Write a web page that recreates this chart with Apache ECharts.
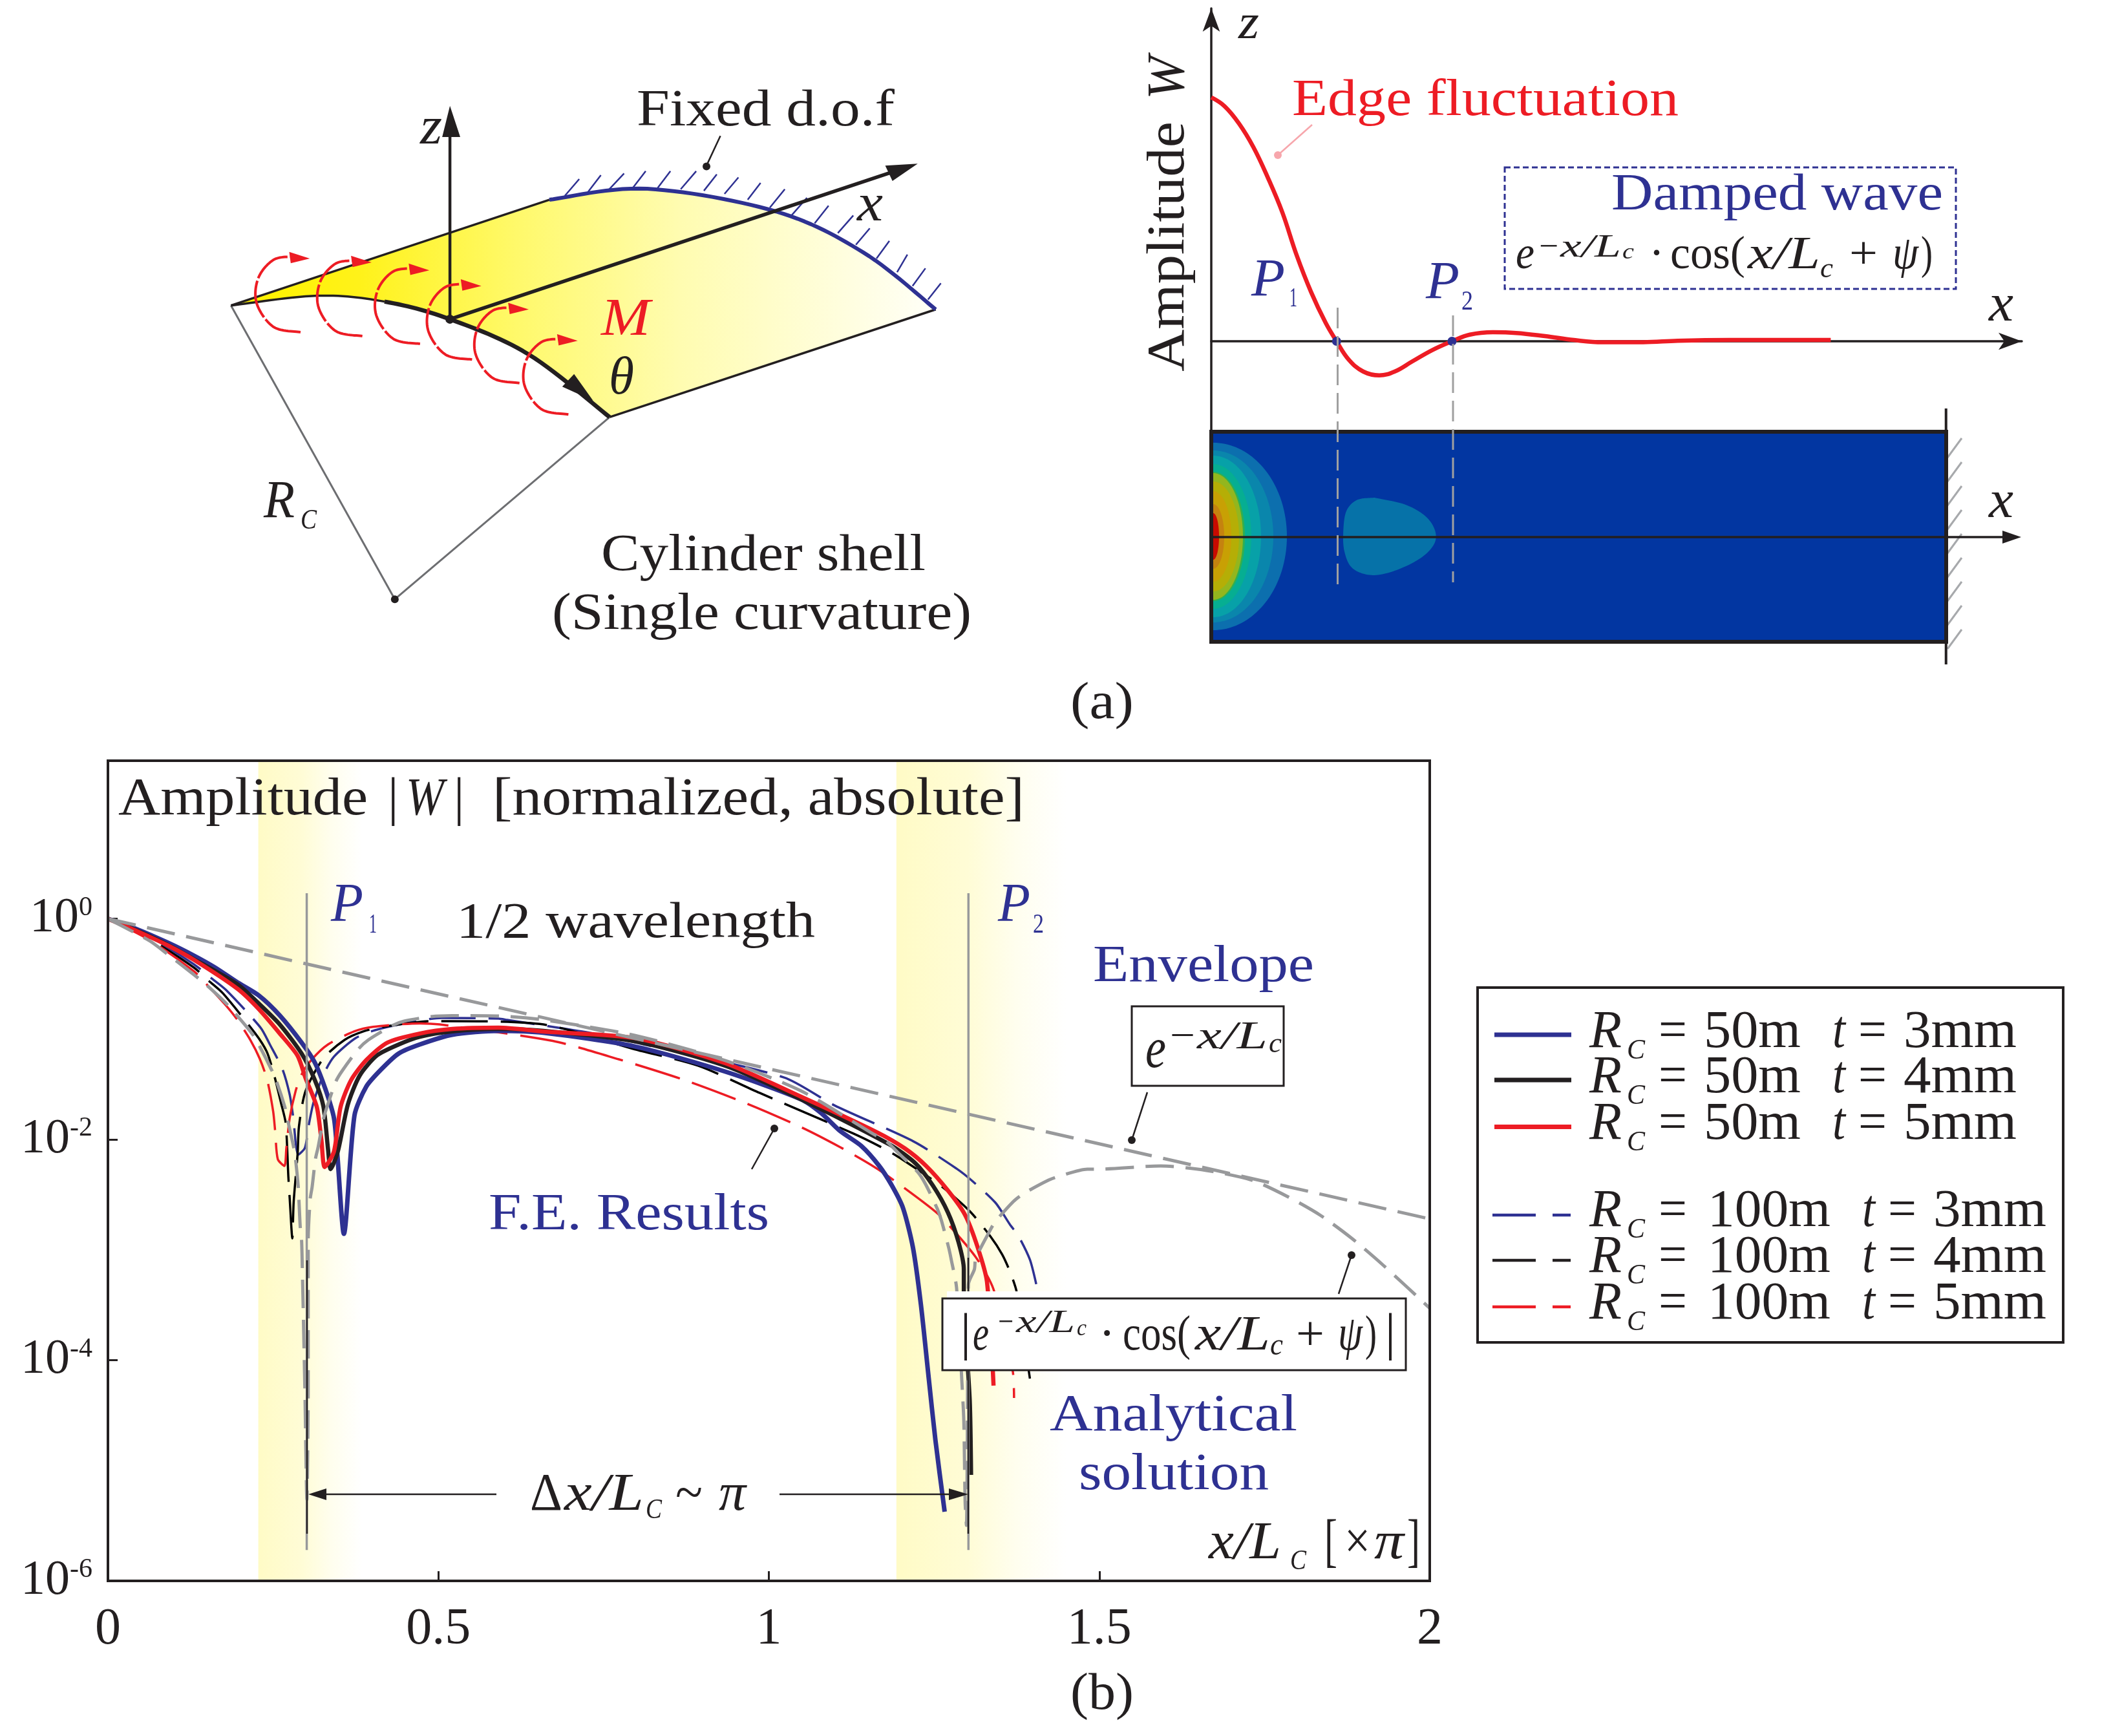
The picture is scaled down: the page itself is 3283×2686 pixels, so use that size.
<!DOCTYPE html>
<html><head><meta charset="utf-8">
<style>html,body{margin:0;padding:0;background:#fff}#c{width:3283px;height:2686px}</style>
<script src="https://cdn.jsdelivr.net/npm/echarts@6/dist/echarts.min.js"></script>
</head><body><div id="c"></div>
<script>
// ---------- chart values: [x/Lc (x pi), log10 |W|] ----------
const rc50t3 = [[0,0],[.042,-.09],[.090,-.215],[.130,-.334],[.162,-.442],[.196,-.577],[.228,-.694],[.260,-.876],[.293,-1.122],[.313,-1.303],[.329,-1.543],[.342,-1.807],[.347,-2.129],[.357,-2.855],[.373,-1.783],[.391,-1.520],[.414,-1.362],[.440,-1.221],[.472,-1.139],[.521,-1.051],[.591,-1.016],[.660,-1.034],[.797,-1.157],[.934,-1.385],[1.049,-1.637],[1.079,-1.760],[1.108,-1.924],[1.140,-2.059],[1.167,-2.240],[1.186,-2.416],[1.203,-2.621],[1.218,-2.978],[1.230,-3.493],[1.242,-4.167],[1.252,-4.723],[1.266,-5.373]];
const rc50t4 = [[0,0],[.045,-.11],[.090,-.235],[.130,-.366],[.196,-.594],[.228,-.767],[.260,-.958],[.293,-1.221],[.313,-1.461],[.326,-1.701],[.333,-2.088],[.337,-2.269],[.348,-2.105],[.363,-1.684],[.381,-1.420],[.407,-1.239],[.440,-1.139],[.472,-1.069],[.521,-1.020],[.591,-.999],[.659,-1.016],[.797,-1.110],[.934,-1.332],[1.049,-1.637],[1.183,-2.047],[1.222,-2.217],[1.248,-2.416],[1.271,-2.662],[1.287,-2.931],[1.295,-3.177],[1.295,-3.388],[1.304,-4.366],[1.306,-5.039]];
const rc50t5 = [[0,0],[.045,-.115],[.090,-.24],[.130,-.372],[.196,-.635],[.228,-.817],[.260,-1.040],[.287,-1.242],[.299,-1.444],[.316,-1.705],[.323,-2.006],[.328,-2.250],[.342,-2.109],[.352,-1.705],[.368,-1.461],[.391,-1.280],[.423,-1.122],[.472,-1.040],[.521,-.999],[.591,-.987],[.659,-1.022],[.797,-1.081],[.934,-1.309],[1.049,-1.613],[1.164,-1.936],[1.206,-2.082],[1.238,-2.240],[1.271,-2.463],[1.297,-2.685],[1.316,-2.978],[1.330,-3.288],[1.340,-4.231]];
const rc100t3 = [[0,0],[.065,-.17],[.130,-.413],[.156,-.536],[.179,-.647],[.231,-.987],[.245,-1.139],[.264,-1.362],[.275,-1.593],[.280,-1.783],[.288,-2.138],[.298,-2.076],[.304,-1.865],[.311,-1.666],[.326,-1.414],[.342,-1.250],[.375,-1.081],[.404,-1.010],[.456,-.940],[.505,-.899],[.591,-.905],[.604,-.917],[.729,-1.034],[.807,-1.133],[1.023,-1.438],[1.099,-1.690],[1.219,-2.018],[1.284,-2.264],[1.307,-2.372],[1.343,-2.574],[1.365,-2.773],[1.377,-2.867],[1.395,-3.089],[1.405,-3.323]];
const rc100t4 = [[0,0],[.065,-.19],[.130,-.442],[.153,-.565],[.174,-.676],[.223,-1.040],[.240,-1.201],[.250,-1.383],[.262,-1.672],[.269,-1.854],[.273,-2.340],[.275,-2.533],[.279,-2.896],[.281,-2.568],[.287,-2.129],[.289,-1.883],[.299,-1.561],[.326,-1.265],[.358,-1.098],[.387,-1.020],[.417,-.979],[.489,-.928],[.518,-.928],[.659,-.958],[.797,-1.183],[.893,-1.332],[.986,-1.578],[1.128,-1.947],[1.174,-2.082],[1.199,-2.170],[1.262,-2.428],[1.304,-2.650],[1.336,-2.884],[1.353,-3.042],[1.365,-3.200],[1.375,-3.382],[1.395,-4.167]];
const rc100t5 = [[0,0],[.065,-.20],[.130,-.475],[.148,-.586],[.176,-.768],[.196,-.917],[.216,-1.104],[.230,-1.272],[.241,-1.461],[.250,-1.746],[.253,-1.924],[.257,-2.179],[.267,-2.240],[.270,-2.076],[.275,-1.807],[.284,-1.561],[.293,-1.411],[.309,-1.272],[.333,-1.139],[.373,-1.020],[.401,-.979],[.472,-.948],[.502,-.958],[.673,-1.107],[.773,-1.274],[.872,-1.461],[.968,-1.678],[1.049,-1.889],[1.108,-2.070],[1.154,-2.228],[1.178,-2.322],[1.240,-2.597],[1.262,-2.709],[1.313,-3.066],[1.340,-3.359],[1.369,-4.097],[1.371,-4.343]];
const analytical = [[0,0],[.063,-.20],[.090,-.32],[.130,-.507],[.148,-.594],[.179,-.768],[.218,-1.040],[.228,-1.139],[.247,-1.362],[.255,-1.473],[.268,-1.713],[.272,-1.824],[.281,-2.070],[.284,-2.187],[.288,-2.433],[.289,-2.550],[.291,-2.796],[.293,-2.914],[.294,-3.136],[.298,-4.266],[.301,-5.262],[.303,-4.266],[.303,-2.914],[.306,-2.542],[.309,-2.428],[.314,-2.176],[.318,-2.070],[.326,-1.816],[.331,-1.713],[.345,-1.473],[.355,-1.373],[.379,-1.180],[.394,-1.098],[.430,-.969],[.448,-.928],[.489,-.887],[.521,-.878],[.591,-.881],[.660,-.917],[.797,-1.057],[.934,-1.285],[1.049,-1.561],[1.154,-1.936],[1.179,-2.024],[1.196,-2.123],[1.225,-2.293],[1.237,-2.404],[1.255,-2.630],[1.261,-2.732],[1.272,-2.978],[1.276,-3.089],[1.284,-3.341],[1.292,-4.187],[1.295,-4.548],[1.297,-5.285],[1.299,-5.497],[1.301,-3.974],[1.302,-3.312],[1.311,-3.177],[1.313,-3.078],[1.333,-2.843],[1.342,-2.750],[1.370,-2.562],[1.385,-2.492],[1.423,-2.369],[1.439,-2.334],[1.482,-2.269],[1.497,-2.269],[1.593,-2.240],[1.662,-2.281],[1.731,-2.369],[1.786,-2.521],[1.834,-2.685],[1.882,-2.896],[1.930,-3.142],[2.000,-3.529]];
const envelope = [[0,0],[.3008,-.41],[1,-1.36],[2,-2.72]];
const p1Line = [[.3008,.231],[.3008,-5.72]];
const p2Line = [[1.302,.231],[1.302,-5.72]];
const bandP1 = [.2275,.385];
const bandP2 = [1.193,1.45];
const xTicks = ['0','0.5','1','1.5','2'];
const edgeWave = [[0,1],[.115,.964],[.24,.893],[.365,.796],[.49,.671],[.615,.529],[.74,.352],[.865,.201],[.99,.076],[1.085,0],[1.19,-.075],[1.315,-.124],[1.455,-.140],[1.59,-.124],[1.74,-.083],[1.915,-.036],[2.085,0],[2.24,.027],[2.44,.037],[2.64,.034],[2.89,.021],[3.14,.005],[3.39,-.004],[3.74,-.004],[4.04,.002],[4.49,.005],[4.89,.005],[5.365,.005]];
const zeroPoints = [[1.085,0],[2.085,0]];
const legendR = ['50m','50m','50m','100m','100m','100m'];
const legendT = ['3mm','4mm','5mm','3mm','4mm','5mm'];

const BLUE='#2E3192', RED='#ED1C24', BLACK='#231F20', GRAY='#939598';
const FONT='"Liberation Serif"';
const toW = a => a.map(p => [p[0], Math.pow(10,p[1])]);

// ---------- drawing helpers ----------
const ctx = document.createElement('canvas').getContext('2d');
const G = [];
function T(text,x,base,size,o){ o=o||{};
  const font=(o.i?'italic ':'')+size+'px '+FONT;
  ctx.font=font; ctx.textBaseline='middle';
  const m=ctx.measureText('H');
  const off=m.actualBoundingBoxDescent;
  const wid=ctx.measureText(text).width;
  const sx=o.w?o.w/wid:1;
  const el={type:'text',z:o.z||120,silent:true,scaleX:sx,
    style:{text,font,fill:o.c||BLACK,textAlign:'left',verticalAlign:'middle'}};
  if(o.rot){el.rotation=Math.PI/2;el.x=x-off;el.y=base;}
  else{el.x=x;el.y=base-off;}
  G.push(el);
}
function L(pts,c,w,o){o=o||{};G.push({type:'polyline',z:o.z||110,silent:true,shape:{points:pts},style:{stroke:c,lineWidth:w,fill:null,lineDash:o.d||null,lineCap:o.cap||'butt',lineJoin:'round'}});}
function P(pts,c,o){o=o||{};G.push({type:'polygon',z:o.z||110,silent:true,shape:{points:pts},style:{fill:c,stroke:o.s||null,lineWidth:o.w||0}});}
function D(x,y,r,c,z){G.push({type:'circle',z:z||112,silent:true,shape:{cx:x,cy:y,r},style:{fill:c}});}
function R(x,y,w,h,o){o=o||{};G.push({type:'rect',z:o.z||100,silent:true,shape:{x,y,width:w,height:h},style:{fill:o.f||null,stroke:o.s||null,lineWidth:o.w||0,lineDash:o.d||null}});}
function spline(p,n){n=n||14;const r=[];for(let i=0;i<p.length-1;i++){const a=p[Math.max(i-1,0)],b=p[i],c=p[i+1],d=p[Math.min(i+2,p.length-1)];
  for(let k=0;k<n;k++){const t=k/n,t2=t*t,t3=t2*t;const f=j=>.5*(2*b[j]+(c[j]-a[j])*t+(2*a[j]-5*b[j]+4*c[j]-d[j])*t2+(3*b[j]-a[j]-3*c[j]+d[j])*t3);r.push([f(0),f(1)]);}}
  r.push(p[p.length-1]);return r;}

// ---------- panel (a) left: cylinder shell schematic ----------
const z3=(X,Y)=>[300+.797*X,100+.606*Y];
const nearArc=[[72,615],[240,590],[370,605],[497,650],[650,740],[807,900]].map(p=>z3(p[0],p[1]));
const farArc=[[690,345],[880,317],[1130,375],[1300,480],[1440,625]].map(p=>z3(p[0],p[1]));
const shell=[...spline(nearArc),...spline(farArc).reverse()];
P(shell,{type:'linear',x:400,y:0,x2:1448,y2:0,global:true,colorStops:[{offset:0,color:'#FFF200'},{offset:.15,color:'#FFF21A'},{offset:.38,color:'#FFF96A'},{offset:.62,color:'#FFFCB0'},{offset:1,color:'#FFFFF8'}]},{z:20});
L([z3(72,615),z3(690,345)],BLACK,3.5,{z:21});
L([z3(807,900),z3(1440,625)],BLACK,3.5,{z:21});
L(spline(farArc),BLUE,6,{z:22});
[[720,335,748,292],[765,325,790,282],[805,320,835,278],[850,318,877,272],[900,315,925,272],[945,318,975,272],[990,322,1015,280],[1030,330,1057,288],[1075,345,1100,302],[1118,365,1147,318],[1160,385,1190,340],[1205,405,1232,360],[1250,430,1280,385],[1285,460,1312,418],[1325,495,1350,450],[1365,530,1385,485],[1395,565,1420,520],[1425,600,1450,558]].forEach(h=>L([z3(h[0],h[1]),z3(h[2],h[3])],BLUE,2.5,{z:21}));
const nearPts=spline(nearArc);
L(nearPts.slice(0,29),BLACK,3.5,{z:23});
L(nearPts.slice(28),BLACK,6.5,{z:23});
P([z3(775,858),z3(715,822),z3(738,790)],BLACK,{z:24});
L([z3(72,615),z3(390,1365),z3(807,900)],'#6D6E71',3,{z:21});
D(...z3(390,1365),6,BLACK);
L([z3(497,650),z3(497,170)],BLACK,4.5,{z:25});
P([z3(497,105),z3(482,185),z3(517,185)],BLACK,{z:25});
L([z3(497,650),z3(1370,268)],BLACK,5.5,{z:25});
P([z3(1405,253),z3(1342,258),z3(1356,297)],BLACK,{z:25});
D(...z3(497,650),7,BLACK,26);
[[120,590],[240,600],[352,620],[453,660],[545,720],[640,800]].forEach(c=>{
  const f=(dx,dy)=>z3(c[0]+dx,c[1]+dy);
  L(spline([f(87,93),f(35,80),f(2,20),f(5,-45),f(35,-92),f(75,-100)]),RED,4,{z:30,d:[60,4]});
  P([f(105,-95),f(65,-112),f(68,-83)],RED,{z:30});
});
L([z3(1022,182),z3(995,258)],BLACK,2.5);D(...z3(995,260),6,BLACK);
T('Fixed d.o.f',985,194,80,{w:399});
T('z',650,222,82,{i:1,w:34});
T('x',1326,341,82,{i:1,w:40});
T('M',930,518,82,{i:1,c:RED,w:76});
T('θ',942,609,82,{i:1,w:39});
T('R',408,800,82,{i:1,w:48});T('C',465,818,45,{i:1,w:25});
T('Cylinder shell',930,882,80,{w:502});
T('(Single curvature)',854,973,80,{w:649});
T('(a)',1656,1111,80,{w:98});

// ---------- panel (a) right ----------
const px=X=>1740+.893*X, py=Y=>.67*Y;
R(1874,668,1137,325,{f:'#0236A1',z:20});
const halves=[[114,145,'#0C6FAE'],[93,133,'#0A86AC'],[74,125,'#07A1A8'],[59,112,'#06AE92'],[49,100,'#2FAF52'],[46,98,'#93B61E'],[40,85,'#B5AE06'],[28,70,'#C8A004'],[17,50,'#C5820F'],[9,36,'#C80A00']];
halves.forEach(h=>{const pts=[];for(let i=-40;i<=40;i++){const a=i/40*Math.PI/2;pts.push([1877+h[0]*Math.cos(a),830+h[1]*Math.sin(a)]);}P(pts,h[2],{z:21});});
const z8=(X,Y)=>[1860+X/3,640+Y/3];
P(spline([[800,390],[950,425],[1050,490],[1085,575],[1040,650],[930,715],[800,750],[700,720],[660,640],[655,540],[670,450],[720,400],[800,390]].map(p=>z8(p[0],p[1]))),'#0672A8',{z:21});
R(1874,668,1137,325,{s:BLACK,w:6,z:26});
L([[px(1423),632],[px(1423),1028]],BLACK,4,{z:26});
for(let i=0;i<9;i++){const y=678+i*37;L([[3035,y],[3013,y+30]],'#A7A9AC',3,{z:25});}
L([[1874,831],[3105,831]],BLACK,3.5,{z:27});
P([[3127,831],[3098,821],[3098,841]],BLACK,{z:27});
L([[2069.5,476],[2069.5,904]],'#A0A0A0',3,{d:[32,12],z:28});
L([[2248,488],[2248,901]],'#A0A0A0',3,{d:[32,12],z:28});
L([[2030,193],[1977,240]],'#F7A6AC',2.5);D(1977,240,6,'#F7A6AC');
T('Edge fluctuation',1999,178,80,{c:RED,w:598});
T('Amplitude',1831,575,82,{rot:1,w:387});T('W',1831,154,82,{rot:1,i:1,w:67});
T('z',1916,59,76,{i:1,w:32});
T('x',3077,496,82,{i:1,w:38});T('x',3077,800,82,{i:1,w:38});
T('P',1936,457,82,{i:1,c:BLUE,w:52});T('1',1995,474,42,{c:BLUE,w:12});
T('P',2206,461,82,{i:1,c:BLUE,w:52});T('2',2261,479,42,{c:BLUE,w:18});
R(2328,259,698,188,{s:BLUE,w:3,d:[9,5],z:100});
T('Damped wave',2493,324,80,{c:BLUE,w:513});
T('e',2345,415,72,{i:1,w:29});T('−',2381,397,50,{w:30});T('x/L',2414,397,50,{i:1,w:94});T('c',2510,400,34,{i:1,w:18});
T('·',2551,415,72);T('cos(',2584,415,72,{w:116});T('x/L',2704,415,72,{i:1,w:112});T('c',2816,429,44,{i:1,w:20});
T('+',2861,415,72,{w:44});T('ψ',2928,415,72,{i:1,w:40});T(')',2972,415,72,{w:18});

// ---------- panel (b) overlays ----------
R(167,1177,2045,1269,{s:BLACK,w:4,z:60});
L([[475,1950],[475,2373]],BLACK,2.5,{z:61});L([[1498,1946],[1498,2373]],BLACK,2.5,{z:61});
L([[505,2312],[768,2312]],BLACK,2.5);L([[1206,2312],[1470,2312]],BLACK,2.5);
P([[477,2312],[505,2303],[505,2321]],BLACK);P([[1498,2312],[1468,2303],[1468,2321]],BLACK);
T('Amplitude',183,1260,82,{w:386});T('|',600,1260,82);T('W',628,1260,82,{i:1,w:59});T('|',702,1260,82);T('[normalized, absolute]',762,1260,82,{w:823});
T('P',512,1425,84,{i:1,c:BLUE,w:50});T('1',571,1443,42,{c:BLUE,w:12});
T('1/2 wavelength',706,1451,78,{w:555});
T('P',1544,1425,84,{i:1,c:BLUE,w:50});T('2',1598,1443,42,{c:BLUE,w:17});
T('Envelope',1691,1518,80,{c:BLUE,w:342});
R(1751,1557,235,123,{f:'#fff',s:BLACK,w:3,z:100});
T('e',1772,1652,88,{i:1,w:32});T('−',1810,1622,62,{w:39});T('x/L',1852,1622,62,{i:1,w:109});T('c',1963,1628,44,{i:1,w:20});
L([[1775,1690],[1751,1764]],BLACK,2.5);D(1751,1764,6,BLACK);
R(1465,1998,690,118,{f:'#fff',z:99});
R(1458,2009,717,111,{f:'#fff',s:BLACK,w:3,z:100});
T('|',1486,2088,80);T('e',1505,2088,76,{i:1,w:25});T('−',1544,2061,50,{w:24});T('x/L',1572,2061,50,{i:1,w:91});T('c',1666,2066,36,{i:1,w:15});
T('·',1700,2088,76);T('cos(',1737,2088,76,{w:105});T('x/L',1849,2088,76,{i:1,w:116});T('c',1965,2096,48,{i:1,w:20});
T('+',2005,2088,76,{w:44});T('ψ',2070,2088,76,{i:1,w:38});T(')',2112,2088,76,{w:18});T('|',2143,2088,80);
L([[2091,1942],[2071,2002]],BLACK,2.5);D(2091,1942,6,BLACK);
L([[1198,1746],[1163,1809]],BLACK,2.5);D(1198,1746,6,BLACK);
T('F.E. Results',756,1902,80,{c:BLUE,w:434});
T('Analytical',1624,2213,80,{c:BLUE,w:383});
T('solution',1669,2304,80,{c:BLUE,w:294});
T('x/L',1870,2411,82,{i:1,w:112});T('C',1996,2428,44,{i:1,w:25});
T('[',2049,2414,92,{w:20});T('×',2080,2411,82,{w:40});T('π',2126,2411,82,{i:1,w:46});T(']',2177,2414,92,{w:20});
T('Δ',820,2336,82,{w:50});T('x/L',873,2336,82,{i:1,w:123});T('C',999,2349,44,{i:1,w:25});T('~',1045,2336,82,{w:42});T('π',1112,2336,82,{i:1,w:42});
T('(b)',1656,2644,80,{w:98});

// ---------- legend ----------
R(2286,1528,906,549,{f:'#fff',s:BLACK,w:4,z:100});
const rowBase=[1620,1690,1762,1897,1968,2040], rowLine=[1601,1671,1743.5,1880,1950,2022], rowColor=[BLUE,BLACK,RED,BLUE,BLACK,RED];
legendR.forEach((r,i)=>{
  const big=i>2, c=rowColor[i], b=rowBase[i], ly=rowLine[i];
  if(big){L([[2309,ly],[2376,ly]],c,4.5);L([[2402,ly],[2430,ly]],c,4.5);}
  else L([[2312,ly],[2431,ly]],c,7);
  T('R',2459,b,82,{i:1,w:50});T('C',2517,b+18,45,{i:1,w:28});
  T('=',2566,b,82,{w:44});
  T(r,big?2642:2636,b,82,{w:big?190:150});
  T('t',big?2881:2835,b,82,{i:1,w:20});
  T('=',big?2921:2875,b,82,{w:44});
  T(legendT[i],big?2991:2945,b,82,{w:175});
});

// ---------- series ----------
function line(name,data,c,w,dash,z,sm){return {name,type:'line',data:toW(data),xAxisIndex:0,yAxisIndex:0,showSymbol:false,symbol:'none',silent:true,z:z||3,smooth:sm||false,
  lineStyle:{color:c,width:w,type:dash||'solid',cap:'butt',join:'round'}};}
const bandFill=()=>({type:'linear',x:0,y:0,x2:1,y2:0,colorStops:[{offset:0,color:'#FFFBC6'},{offset:.42,color:'#FFFCD6'},{offset:.7,color:'#FFFEEE'},{offset:1,color:'#FFFFFF'}]});
const dashFE=[72,20], dashAna=[44,18], SM=.25;
const series=[
 Object.assign(line('R_C = 100m t = 3mm',rc100t3,BLUE,3.5,dashFE,3,SM),{markArea:{silent:true,z:1,itemStyle:{opacity:1},data:[
   [{xAxis:bandP1[0],yAxis:1e-6,itemStyle:{color:bandFill()}},{xAxis:bandP1[1],yAxis:Math.pow(10,1.432)}],
   [{xAxis:bandP2[0],yAxis:1e-6,itemStyle:{color:bandFill()}},{xAxis:bandP2[1],yAxis:Math.pow(10,1.432)}]]}}),
 line('R_C = 100m t = 4mm',rc100t4,'#000',3.5,dashFE,3,SM),
 line('R_C = 100m t = 5mm',rc100t5,RED,3.5,dashFE,3,SM),
 line('R_C = 50m t = 3mm',rc50t3,BLUE,7,null,4,SM),
 line('R_C = 50m t = 4mm',rc50t4,BLACK,6.5,null,4,SM),
 line('R_C = 50m t = 5mm',rc50t5,RED,6.5,null,4,SM),
 line('Analytical solution',analytical,'#98999B',5,dashAna,5,SM),
 line('Envelope',envelope,'#98999B',5,dashAna,5),
 line('P1',p1Line,'#98999B',3.5,null,6),
 line('P2',p2Line,'#98999B',3.5,null,6),
 {name:'Edge fluctuation',type:'line',data:edgeWave,xAxisIndex:1,yAxisIndex:1,smooth:.4,showSymbol:false,symbol:'none',silent:true,z:5,lineStyle:{color:RED,width:6.5}},
 {name:'Zero crossings',type:'scatter',data:zeroPoints,xAxisIndex:1,yAxisIndex:1,symbolSize:14,silent:true,z:6,itemStyle:{color:BLUE,opacity:1}}
];

const chart=echarts.init(document.getElementById('c'),null,{renderer:'canvas',width:3283,height:2686});
chart.setOption({
 animation:false,backgroundColor:'#fff',
 grid:[{left:167,top:1177,width:2045,height:1269,show:false},
       {left:1874,top:13,width:1254,height:654,show:false}],
 xAxis:[
  {gridIndex:0,type:'value',min:0,max:2,interval:.5,
   axisLine:{show:false},splitLine:{show:false},
   axisTick:{show:true,inside:true,length:15,lineStyle:{color:BLACK,width:3}},
   axisLabel:{margin:36,color:BLACK,fontFamily:FONT,fontSize:80,formatter:v=>xTicks[Math.round(v*2)]||'',hideOverlap:false}},
  {gridIndex:1,type:'value',min:0,max:7.02,
   axisLine:{show:true,onZero:true,symbol:['none','arrow'],symbolSize:[20,36],lineStyle:{color:BLACK,width:3.5}},
   axisTick:{show:false},axisLabel:{show:false},splitLine:{show:false}}],
 yAxis:[
  {gridIndex:0,type:'log',logBase:10,min:1e-6,max:Math.pow(10,1.432),interval:2,
   axisLine:{show:false},splitLine:{show:false},minorTick:{show:false},
   axisTick:{show:true,inside:true,length:15,lineStyle:{color:BLACK,width:3}},
   axisLabel:{margin:24,color:BLACK,fontFamily:FONT,fontSize:76,
     formatter:v=>{const e=Math.log10(v);if(Math.abs(e-Math.round(e))>.01||e>.5)return '';return '{b|10}{s|'+Math.round(e)+'}';},
     rich:{b:{fontFamily:FONT,fontSize:76,color:BLACK},s:{fontFamily:FONT,fontSize:42,color:BLACK,verticalAlign:'top',lineHeight:70}}}},
  {gridIndex:1,type:'value',min:-.3685,max:1.365,
   axisLine:{show:true,onZero:true,symbol:['none','arrow'],symbolSize:[20,36],lineStyle:{color:BLACK,width:3.5}},
   axisTick:{show:false},axisLabel:{show:false},splitLine:{show:false}}],
 series,
 graphic:{elements:G}
});
</script></body></html>
